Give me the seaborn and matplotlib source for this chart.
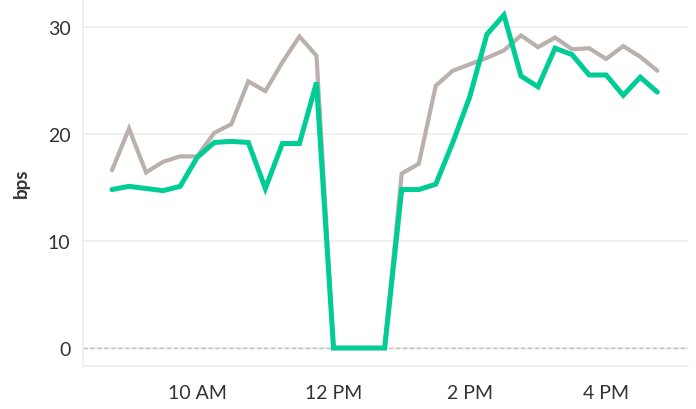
import matplotlib
matplotlib.use("Agg")
import matplotlib.pyplot as plt
import matplotlib.dates as mdates
import numpy as np
import pandas as pd
import seaborn as sns

# 15-minute samples from 8:45 AM to 4:45 PM
times = pd.date_range("2024-01-01 08:45", "2024-01-01 16:45", freq="15min")

baseline_bps = [16.6, 20.5, 16.4, 17.4, 17.9, 17.9, 20.1, 20.9, 24.9, 24.0,
                26.7, 29.1, 27.3, 0.0, 0.0, 0.0, 0.0, 16.3, 17.2, 24.5,
                25.9, 26.5, 27.1, 27.8, 29.2, 28.1, 29.0, 27.9, 28.0, 27.0,
                28.2, 27.2, 25.9]
current_bps = [14.8, 15.1, 14.9, 14.7, 15.1, 17.8, 19.2, 19.3, 19.2, 14.9,
               19.1, 19.1, 24.8, 0.0, 0.0, 0.0, 0.0, 14.8, 14.8, 15.3,
               19.2, 23.5, 29.3, 31.1, 25.4, 24.4, 28.0, 27.4, 25.5, 25.5,
               23.6, 25.3, 23.9]
series_names = ["Baseline", "Current"]
series_colors = ["#bab0ac", "#00cc96"]

df = pd.DataFrame({
    "time": list(times) * 2,
    "bps": baseline_bps + current_bps,
    "series": [series_names[0]] * len(times) + [series_names[1]] * len(times),
})

sns.set_theme(style="white")
plt.rcParams["font.family"] = ["Lato", "DejaVu Sans"]

fig = plt.figure(figsize=(6.96, 4.10), dpi=100)
ax = fig.add_axes([83 / 696, (410 - 367) / 410, (688 - 83) / 696, 367 / 410])

sns.lineplot(data=df, x="time", y="bps", hue="series",
             palette=dict(zip(series_names, series_colors)),
             ax=ax, legend=False, estimator=None)
for line, lw in zip(ax.lines, [3.0, 3.6]):
    line.set_linewidth(lw)
    line.set_solid_joinstyle("miter")
ax.lines[0].set_zorder(3)
ax.lines[1].set_zorder(4)

ax.set_xlim(pd.Timestamp("2024-01-01 08:19:30"), pd.Timestamp("2024-01-01 17:12:00"))
ax.set_ylim(-1.68, 32.6)

ax.set_yticks([0, 10, 20, 30])
ax.yaxis.grid(True, color="#f0f0f0", linewidth=1.4)
ax.axhline(0, color="#bdbdbd", linewidth=1.0, linestyle=(0, (3, 2)), zorder=2)

ax.xaxis.set_major_locator(mdates.HourLocator(byhour=[10, 12, 14, 16]))
ax.xaxis.set_minor_locator(mdates.HourLocator(byhour=[9, 11, 13, 15, 17]))
ax.xaxis.set_major_formatter(mdates.DateFormatter("%-I %p"))

ax.tick_params(axis="x", which="major", length=8, width=1, color="#e8e8e8",
               pad=5, labelsize=14, labelcolor="#333333")
ax.tick_params(axis="x", which="minor", length=4, width=1, color="#e8e8e8")
ax.tick_params(axis="y", length=0, pad=9, labelsize=14, labelcolor="#333333")

ax.set_xlabel("")
ax.set_ylabel("bps", fontsize=13.5, fontweight="bold", color="#333333")
ax.yaxis.set_label_coords(-53 / 605, 0.5)

for side in ["top", "right"]:
    ax.spines[side].set_visible(False)
for side in ["left", "bottom"]:
    ax.spines[side].set_color("#eeeeee")
    ax.spines[side].set_linewidth(1.2)

fig.savefig("out.png", dpi=100)
